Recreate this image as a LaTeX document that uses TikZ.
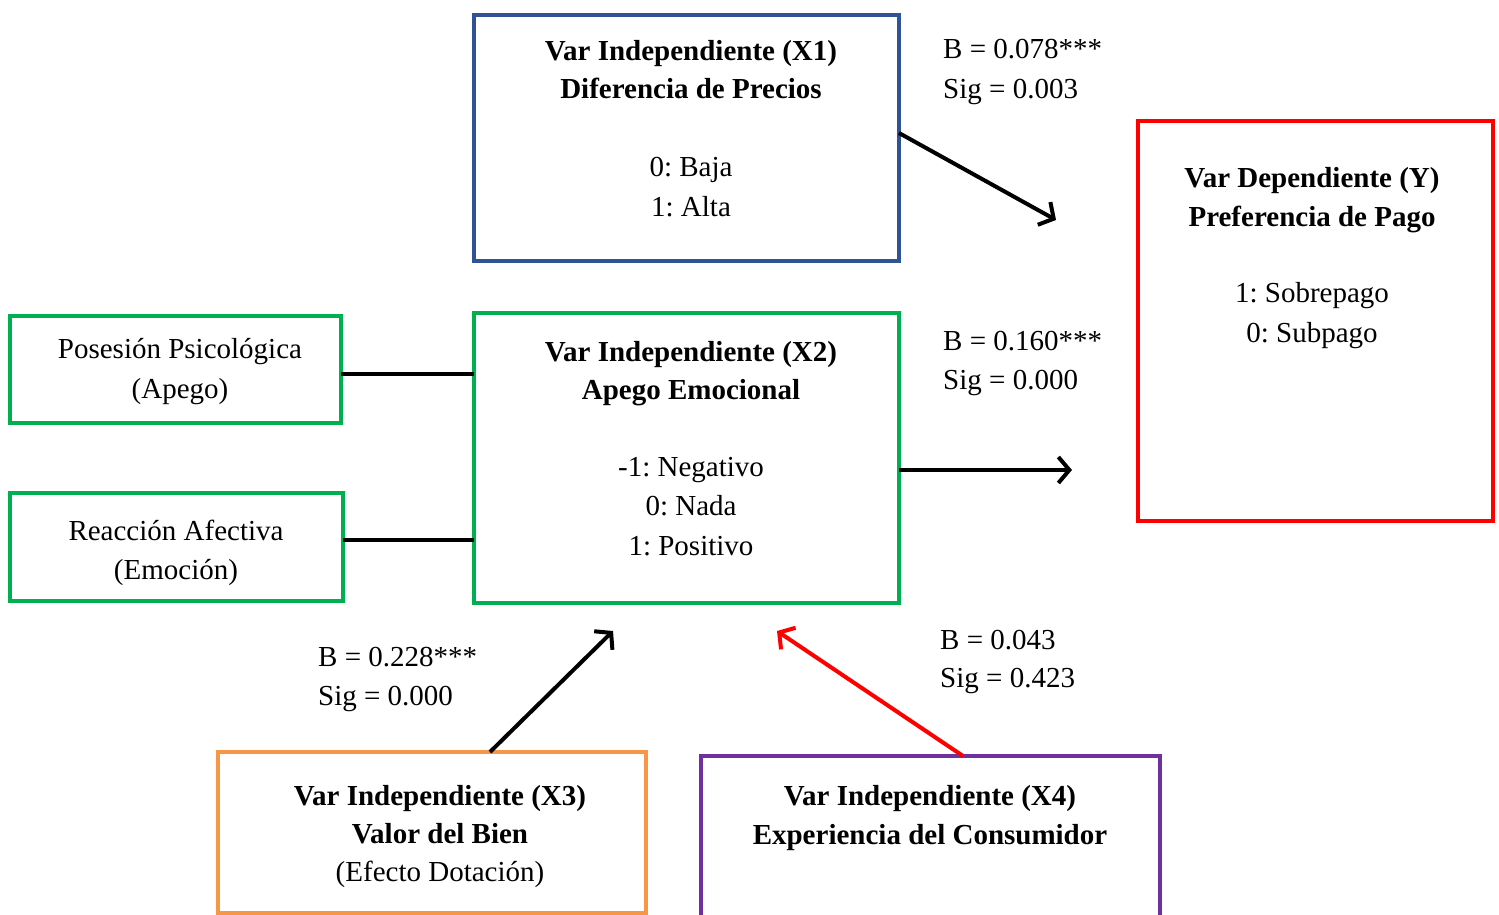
\documentclass[tikz,border=0pt]{standalone}
\usepackage{fontspec}
\setmainfont{Liberation Serif}
\frenchspacing
\usetikzlibrary{arrows.meta,calc}
\definecolor{cblue}{HTML}{2F5496}
\definecolor{cgreen}{HTML}{00B050}
\definecolor{cred}{HTML}{FF0000}
\definecolor{corange}{HTML}{F79646}
\definecolor{cpurple}{HTML}{7030A0}
\begin{document}
\begin{tikzpicture}[x=1pt,y=-1pt,
  box/.style={draw=#1,line width=4pt,inner sep=0pt,outer sep=0pt},
  txt/.style={anchor=base,inner sep=0pt,font=\fontsize{29}{35}\selectfont},
  btxt/.style={txt,font=\fontsize{29}{35}\selectfont\bfseries},
  ltxt/.style={anchor=base west,inner sep=0pt,font=\fontsize{29}{35}\selectfont},
  conn/.style={line width=4pt,-{Straight Barb[length=11pt,width=26pt]}},
  link/.style={line width=4pt}]
\useasboundingbox (0,0) rectangle (1499,915);
\clip (0,0) rectangle (1499,915);
% boxes
\node[box=cblue,minimum width=425pt,minimum height=246pt] (x1) at (686.5,138) {};
\node[box=cred,minimum width=355pt,minimum height=400pt] (y) at (1315.5,321) {};
\node[box=cgreen,minimum width=425pt,minimum height=290pt] (x2) at (686.5,458) {};
\node[box=cgreen,minimum width=331pt,minimum height=107pt] (pp) at (175.5,369.5) {};
\node[box=cgreen,minimum width=333pt,minimum height=108pt] (ra) at (176.5,547) {};
\node[box=corange,minimum width=428pt,minimum height=161pt] (x3) at (432,832.5) {};
\node[box=cpurple,minimum width=459pt,minimum height=163pt] (x4) at (930.5,837.5) {};
% box texts
\node[btxt] (x1a) at (691,61) {Var Independiente (X1)};
\node[btxt] (x1b) at (691,99) {Diferencia de Precios};
\node[txt] (x1c) at (691,176) {0: Baja};
\node[txt] (x1d) at (691,216) {1: Alta};
\node[btxt] (ya) at (1312,187) {Var Dependiente (Y)};
\node[btxt] (yb) at (1312,226) {Preferencia de Pago};
\node[txt] (yc) at (1312,302) {1: Sobrepago};
\node[txt] (yd) at (1312,342) {0: Subpago};
\node[btxt] (x2a) at (691,361) {Var Independiente (X2)};
\node[btxt] (x2b) at (691,399) {Apego Emocional};
\node[txt] (x2c) at (691,476) {-1: Negativo};
\node[txt] (x2d) at (691,515) {0: Nada};
\node[txt] (x2e) at (691,555) {1: Positivo};
\node[txt] (ppa) at (180,358) {Posesión Psicológica};
\node[txt] (ppb) at (180,398) {(Apego)};
\node[txt] (raa) at (176,540) {Reacción Afectiva};
\node[txt] (rab) at (176,579) {(Emoción)};
\node[btxt] (x3a) at (440,805) {Var Independiente (X3)};
\node[btxt] (x3b) at (440,843) {Valor del Bien};
\node[txt] (x3c) at (440,881) {(Efecto Dotación)};
\node[btxt] (x4a) at (930,805) {Var Independiente (X4)};
\node[btxt] (x4b) at (930,844) {Experiencia del Consumidor};
% coefficient labels
\node[ltxt] (l1a) at (943,59) {B = 0.078***};
\node[ltxt] (l1b) at (943,99) {Sig = 0.003};
\node[ltxt] (l2a) at (943,350) {B = 0.160***};
\node[ltxt] (l2b) at (943,389) {Sig = 0.000};
\node[ltxt] (l3a) at (318,666) {B = 0.228***};
\node[ltxt] (l3b) at (318,705) {Sig = 0.000};
\node[ltxt] (l4a) at (940,649) {B = 0.043};
\node[ltxt] (l4b) at (940,687) {Sig = 0.423};
% arrow ends
\coordinate (e1) at (1056,220);
\coordinate (e2) at (1072,470);
\coordinate (e3) at (613,631);
\coordinate (e4) at (777,631);
% connectors
\draw[conn] ([yshift=5pt]x1.east) -- (e1);
\draw[conn] ([yshift=-12pt]x2.east) -- (e2);
\draw[conn] ([xshift=58pt]x3.north) -- (e3);
\draw[conn,draw=cred] ([xshift=32.5pt]x4.north) -- (e4);
\draw[link] ([yshift=-4.5pt]pp.east) -- ([yshift=-4.5pt]pp.east -| x2.west);
\draw[link] ([yshift=7pt]ra.east) -- ([yshift=7pt]ra.east -| x2.west);
\end{tikzpicture}
\end{document}
